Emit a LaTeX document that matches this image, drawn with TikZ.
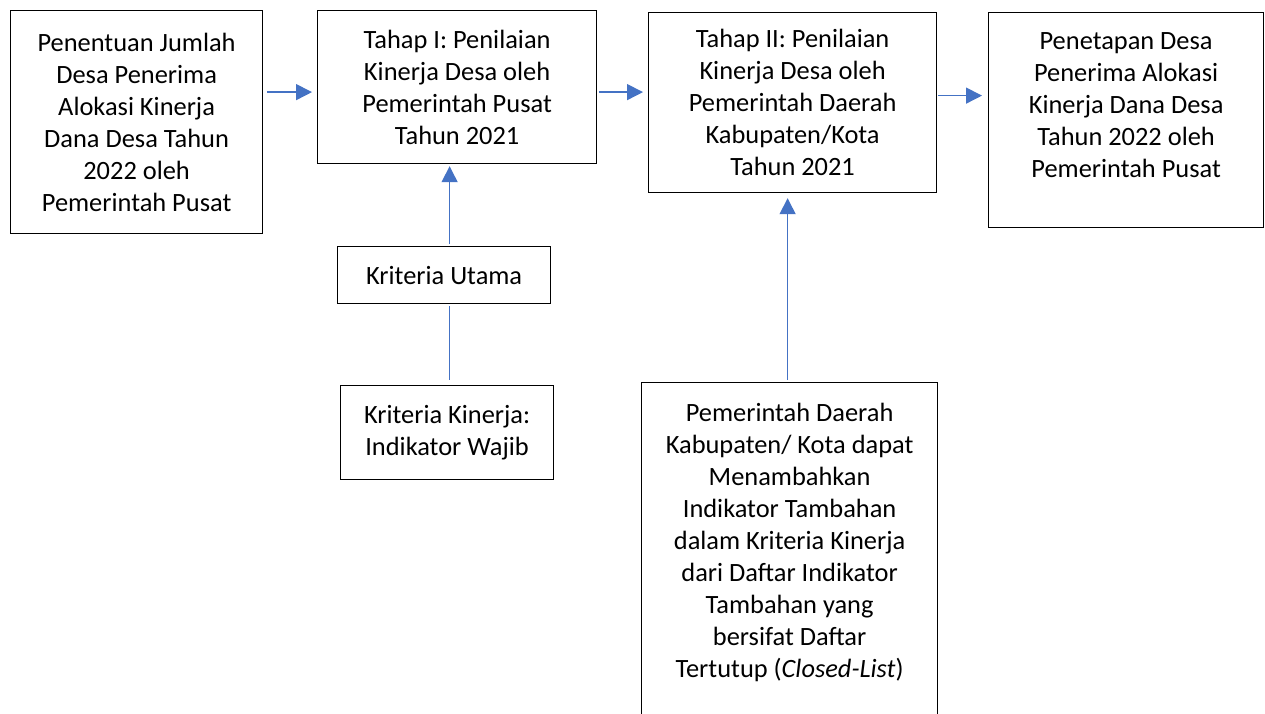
\documentclass[tikz,border=0pt]{standalone}
\usepackage{fontspec}
\setmainfont{Carlito}
\usetikzlibrary{arrows.meta,positioning}

\definecolor{biru}{HTML}{4472C4}
\tikzset{
  kotak/.style={draw, line width=1.2pt, inner sep=0pt, align=center,
    font=\fontsize{26.4}{32}\selectfont, anchor=north west},
  teks/.style={inner sep=0pt, align=center, font=\fontsize{26.4}{32}\selectfont},
  panah/.style={color=biru, line width=1.5pt, -{Triangle[length=16pt,width=16pt]}},
  garis/.style={color=biru, line width=1.5pt}
}

\begin{document}
\begin{tikzpicture}[x=1pt,y=-1pt]
      \clip (0,0) rectangle (1265,713);
      % kotak atas
      \node[kotak, minimum width=252, minimum height=223] (penentuan) at (10,10)
      {Penentuan Jumlah\\Desa Penerima\\Alokasi Kinerja\\Dana Desa Tahun\\2022 oleh\\Pemerintah Pusat};
      \node[kotak, minimum width=279, minimum height=153] (tahap1) at (317,10)
      {Tahap I: Penilaian\\Kinerja Desa oleh\\Pemerintah Pusat\\Tahun 2021};
      \node[kotak, minimum width=288, minimum height=180] (tahap2) at (648,12)
      {Tahap II: Penilaian\\Kinerja Desa oleh\\Pemerintah Daerah\\Kabupaten/Kota\\Tahun 2021};
      \node[kotak, minimum width=275, minimum height=215] (penetapan) at (988,12) {};
      \node[teks, anchor=north] (penetapan-t) at ([yshift=-20pt]penetapan.north)
      {Penetapan Desa\\Penerima Alokasi\\Kinerja Dana Desa\\Tahun 2022 oleh\\Pemerintah Pusat};
      % kriteria
      \node[kotak, minimum width=213, minimum height=57] (utama) at (337,246) {Kriteria Utama};
      \node[kotak, minimum width=213, minimum height=94] (wajib) at (340,385)
      {Kriteria Kinerja:\\Indikator Wajib};
      \node[kotak, minimum width=296, minimum height=350] (daerah) at (641,382) {};
      \node[teks, anchor=north] (daerah-t) at ([yshift=-21pt]daerah.north)
      {Pemerintah Daerah\\Kabupaten/ Kota dapat\\Menambahkan\\Indikator Tambahan\\dalam Kriteria Kinerja\\dari Daftar Indikator\\Tambahan yang\\bersifat Daftar\\Tertutup (\textit{Closed-List})};
      % panah
      \draw[panah] ([shift={(4pt,-5pt)}]penentuan.east |- tahap1.west)
      -- ([shift={(-5pt,-5pt)}]tahap1.west);
      \draw[panah] ([shift={(2pt,-5pt)}]tahap1.east)
      -- ([shift={(-5pt,-5pt)}]tahap1.east -| tahap2.west);
      \draw[panah] ([shift={(1pt,7pt)}]tahap2.east)
      -- ([shift={(-6pt,7pt)}]tahap2.east -| penetapan.west);
      \draw[panah] ([shift={(5.5pt,2pt)}]utama.north)
      -- ([shift={(5.5pt,-2pt)}]utama.north |- tahap1.south);
      \draw[garis] ([shift={(5.5pt,-2pt)}]utama.south)
      -- ([shift={(5.5pt,5pt)}]utama.south |- wajib.north);
      \draw[panah] ([shift={(-2pt,2pt)}]daerah.north)
      -- ([shift={(-2pt,-5pt)}]daerah.north |- tahap2.south);
\end{tikzpicture}
\end{document}
